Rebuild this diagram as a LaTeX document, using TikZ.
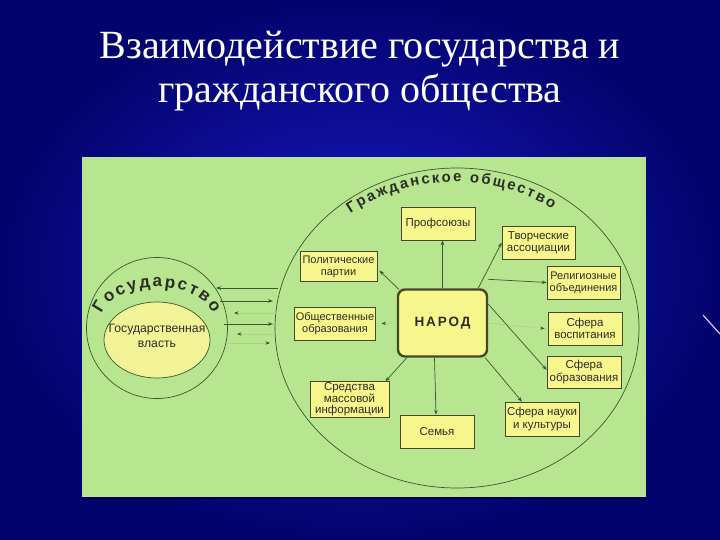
\documentclass[tikz,border=0pt]{standalone}
\usepackage{fontspec}
\setmainfont{Liberation Serif}
\newfontfamily\boxfont{Liberation Sans}
\newfontfamily\narodfont[LetterSpace=14]{Liberation Sans}
\usetikzlibrary{arrows.meta,decorations.text,shapes.geometric}
\definecolor{panelgreen}{RGB}{184,229,143}
\definecolor{boxy}{RGB}{246,246,140}
\definecolor{innery}{RGB}{242,242,150}
\definecolor{boxline}{RGB}{70,72,45}
\definecolor{lnc}{RGB}{58,88,52}
\definecolor{faint}{RGB}{168,214,128}
\definecolor{txtdark}{RGB}{45,45,40}
\definecolor{bgdark}{RGB}{3,3,110}
\definecolor{bglight}{RGB}{26,26,200}
\tikzset{
  box/.style={draw=boxline, line width=0.6pt, fill=boxy, align=center,
    font=\boxfont\fontsize{11.5}{12.5}\selectfont, text=txtdark, inner sep=1pt,
    minimum width=74pt, minimum height=33pt},
  smallbox/.style={box, font=\boxfont\fontsize{11}{12}\selectfont},
  arr/.style={draw=lnc, line width=0.7pt, -{Stealth[length=5pt,width=3.6pt]}},
  farr/.style={draw=faint, line width=0.6pt, -{Stealth[length=4.5pt,width=3.4pt,color=lnc]}},
  ring/.style={draw=lnc, line width=0.7pt},
  titletext/.style={text=white, font=\fontsize{40}{44}\selectfont, inner sep=0pt, anchor=base}
}
\begin{document}
\begin{tikzpicture}[x=1pt,y=-1pt]
\useasboundingbox (0,0) rectangle (720,540);
% background
\shade[inner color=bglight, outer color=bgdark] (0,0) rectangle (720,540);
\draw[line width=1.2pt, color={rgb,255:red,232;green,196;blue,245}] (703,315) -- (720,334);
% title
\node[titletext] (t1) at (360,59) {Взаимодействие государства и};
\node[titletext] (t2) at (360,103) {гражданского общества};
% panel
\fill[black!70!blue] (82,497) rectangle (646,499);
\fill[panelgreen] (82,157) rectangle (646,497);
% civil society ellipse
\draw[ring] (457,328) ellipse [x radius=182pt, y radius=160pt];
\path[decorate, decoration={text along path, text align={fit to path},
   text={|\boxfont\bfseries\fontsize{15}{15}\selectfont\color{txtdark}|Гражданское общество}}]
   (455,330) ++(128:170pt and 148pt) arc[start angle=128, end angle=55, x radius=170pt, y radius=148pt];
% state
\node[circle, ring, minimum size=141pt, inner sep=0pt] (state) at (157,328) {};
\node[ellipse, draw=lnc, line width=0.7pt, fill=innery, minimum width=106pt, minimum height=76pt,
   inner sep=0pt] (power) at (157,340) {};
\node[align=center, font=\boxfont\fontsize{12.2}{15}\selectfont, text=txtdark, inner sep=0pt]
   (powertxt) at (157,336) {Государственная\\власть};
\path[decorate, decoration={text along path, text align={fit to path},
   text={|\boxfont\bfseries\fontsize{17}{17}\selectfont\color{txtdark}|Государство}}]
   (157,321) ++(167:57pt and 34pt) arc[start angle=167, end angle=13, x radius=57pt, y radius=34pt];
% boxes
\node[box] (prof) at (438,223.5) {Профсоюзы};
\node[box, minimum width=73pt] (tvor) at (538.5,242.5) {Творческие\\ассоциации};
\node[smallbox, minimum width=77pt, minimum height=30pt] (pol) at (338.5,266.5) {Политические\\партии};
\node[smallbox, minimum width=73pt] (rel) at (583.5,282.5) {Религиозные\\объединения};
\node[smallbox, minimum width=80pt] (obsh) at (335,323.5) {Общественные\\образования};
\node[box] (vosp) at (585,328.5) {Сфера\\воспитания};
\node[box, minimum height=32pt] (obr) at (584,372) {Сфера\\образования};
\node[box, minimum width=79pt, font=\boxfont\fontsize{11.5}{11.5}\selectfont] (smi) at (349.5,399.5) {Средства\\массовой\\информации};
\node[box] (sem) at (437,431.5) {Семья};
\node[box, minimum height=34pt] (nauka) at (542,419) {Сфера науки\\и культуры};
\node[draw=boxline, line width=2.4pt, rounded corners=7pt, fill=boxy, minimum width=89pt, minimum height=67pt,
   font=\narodfont\bfseries\fontsize{13.5}{14}\selectfont, text=txtdark] (narod) at (442.5,323) {НАРОД};
% connectors from НАРОД
\draw[arr] (narod.north) -- (narod.north |- prof.south);
\draw[arr] ([shift={(2,1)}]narod.north west) -- ([shift={(2,4)}]pol.east);
\draw[arr] ([xshift=-10]narod.north east) -- (tvor.west);
\draw[arr] ([yshift=9]narod.north east) -- (rel.west);
\draw[farr] (narod.east) -- ([xshift=-3]vosp.west);
\draw[arr] ([yshift=19]narod.east) -- ([shift={(0,-2)}]obr.west);
\draw[arr] ([xshift=-3]narod.south east) -- ([xshift=-20]nauka.north);
\draw[arr] ([xshift=-8]narod.south) -- ([xshift=-1]sem.north);
\draw[arr] ([xshift=10]narod.south west) -- ([shift={(-4,0)}]smi.north east);
\draw[farr] (narod.west) -- ([xshift=6]obsh.east);
% state <-> society
\coordinate (s1) at (216,288); \coordinate (g1) at (278,288);
\coordinate (s2) at (220,301); \coordinate (g2) at (273,301);
\coordinate (s3) at (228,313); \coordinate (g3) at (276,313);
\coordinate (s4) at (224,324); \coordinate (g4) at (273,324);
\coordinate (s5) at (229,334); \coordinate (g5) at (275,334);
\coordinate (s6) at (226,343); \coordinate (g6) at (270,343);
\draw[arr] (g1) -- (s1);
\draw[arr] (s2) -- (g2);
\draw[farr] (g3) -- ([xshift=6]s3);
\draw[arr] (s4) -- (g4);
\draw[farr] (g5) -- ([xshift=8]s5);
\draw[farr] (s6) -- (g6);
\end{tikzpicture}
\end{document}
